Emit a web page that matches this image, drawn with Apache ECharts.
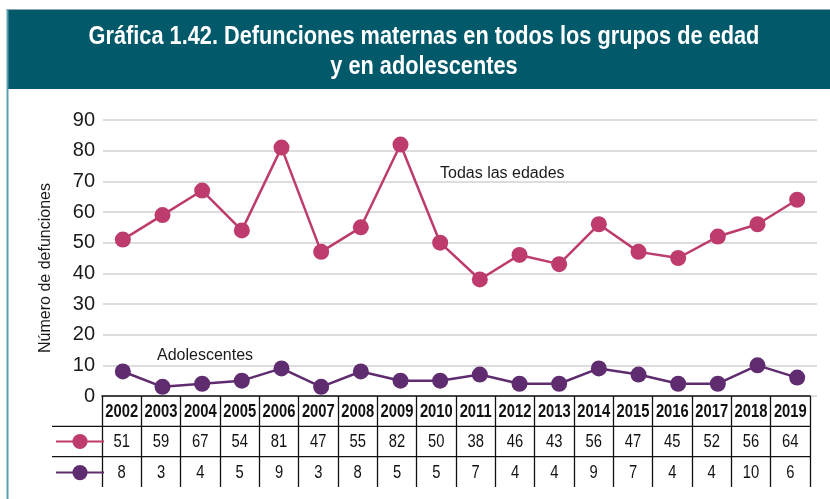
<!DOCTYPE html>
<html>
<head>
<meta charset="utf-8">
<script src="https://cdn.jsdelivr.net/npm/echarts@6/dist/echarts.min.js"></script>
<style>
  html, body { margin: 0; padding: 0; background: #ffffff; }
  #chart { width: 830px; height: 499px; }
</style>
</head>
<body>
<div id="chart"></div>
<script>
// Maternal deaths, all ages vs. adolescents, 2002-2019
const years = ['2002','2003','2004','2005','2006','2007','2008','2009','2010',
               '2011','2012','2013','2014','2015','2016','2017','2018','2019'];
const allAges = [51, 59, 67, 54, 81, 47, 55, 82, 50, 38, 46, 43, 56, 47, 45, 52, 56, 64];
const adolescents = [8, 3, 4, 5, 9, 3, 8, 5, 5, 7, 4, 4, 9, 7, 4, 4, 10, 6];
const yTicks = { min: 0, max: 90, interval: 10 };
const titleLines = ['Gráfica 1.42. Defunciones maternas en todos los grupos de edad', 'y en adolescentes'];

const PINK = '#bd3c6d';
const PURPLE = '#5f2d6f';
const SANS = '"Liberation Sans", Arial, sans-serif';
const NARROW_SCALE = 0.82;       // condensed look for the table text
const TITLE_SCALE = 0.87;        // condensed look for the heading

const chart = echarts.init(document.getElementById('chart'), null, { renderer: 'canvas' });

// table rows: header (years), then the values of each series
const tableRows = [
  { texts: years, bold: true },
  { texts: allAges.map(String), bold: false },
  { texts: adolescents.map(String), bold: false }
];
const tableCells = [];
tableRows.forEach((row, r) => {
  row.texts.forEach((t, i) => tableCells.push([i, r + 0.5, r]));
});

const option = {
  animation: false,
  backgroundColor: '#ffffff',
  legend: {
    orient: 'vertical',
    left: 50,
    top: 427,
    itemWidth: 48,
    itemHeight: 19,
    itemGap: 14,
    formatter: () => '',
    selectedMode: false,
    data: ['Todas las edades', 'Adolescentes']
  },
  grid: [
    { left: 103, right: 13, top: 120, bottom: 103 },
    { left: 102, right: 20, top: 396, height: 91 }
  ],
  xAxis: [
    {
      type: 'category',
      gridIndex: 0,
      data: years,
      boundaryGap: true,
      axisLine: { show: false },
      axisTick: { show: false },
      axisLabel: { show: false },
      splitLine: { show: false }
    },
    {
      type: 'category',
      gridIndex: 1,
      data: years,
      position: 'top',
      boundaryGap: true,
      axisLine: { show: true, lineStyle: { color: '#111', width: 1.5 } },
      axisTick: { show: false },
      axisLabel: { show: false },
      splitLine: { show: true, lineStyle: { color: '#111', width: 1.3 } }
    }
  ],
  yAxis: [
    {
      type: 'value',
      gridIndex: 0,
      min: yTicks.min,
      max: yTicks.max,
      interval: yTicks.interval,
      axisLine: { show: false },
      axisTick: { show: false },
      axisLabel: {
        margin: 8,
        fontFamily: SANS,
        fontSize: 20,
        color: '#1a1a1a'
      },
      splitLine: { show: true, lineStyle: { color: '#d2d2d2', width: 1.5 } }
    },
    {
      type: 'value',
      gridIndex: 1,
      min: 0,
      max: 3,
      inverse: true,
      show: false,
      splitLine: { show: false }
    }
  ],
  series: [
    {
      name: 'Todas las edades',
      type: 'line',
      data: allAges,
      symbol: 'circle',
      symbolSize: 16,
      lineStyle: { color: PINK, width: 2.5 },
      itemStyle: { color: PINK },
      z: 3
    },
    {
      name: 'Adolescentes',
      type: 'line',
      data: adolescents,
      symbol: 'circle',
      symbolSize: 16,
      lineStyle: { color: PURPLE, width: 2.5 },
      itemStyle: { color: PURPLE },
      z: 3
    },
    {
      name: 'tabla',
      type: 'custom',
      xAxisIndex: 1,
      yAxisIndex: 1,
      silent: true,
      data: tableCells,
      renderItem: function (params, api) {
        const cell = tableCells[params.dataIndex];
        const row = tableRows[cell[2]];
        const p = api.coord([cell[0], cell[1]]);
        return {
          type: 'text',
          x: p[0],
          y: p[1] + 1,
          scaleX: NARROW_SCALE,
          style: {
            text: row.texts[cell[0]],
            fontFamily: SANS,
            fontSize: 18,
            fontWeight: row.bold ? 'bold' : 'normal',
            fill: '#111',
            align: 'center',
            verticalAlign: 'middle'
          }
        };
      },
      z: 5
    }
  ]
};

chart.setOption(option);

// frame, title band, annotations and row separators of the table
const rightEdge = chart.convertToPixel({ xAxisIndex: 1 }, years[years.length - 1]) + 19.7;
const rowLine1 = chart.convertToPixel({ yAxisIndex: 1 }, 1);
const rowLine2 = chart.convertToPixel({ yAxisIndex: 1 }, 2);

const titleStyle = { fontFamily: SANS, fontWeight: 'bold', fontSize: 25, fill: '#ffffff', align: 'center', verticalAlign: 'middle' };

chart.setOption({
  graphic: [
    { type: 'rect', shape: { x: 7, y: 10, width: 823, height: 79 }, style: { fill: '#02596a' }, z: 0, silent: true },
    { type: 'line', shape: { x1: 7, y1: 9.5, x2: 830, y2: 9.5 }, style: { stroke: '#8aa7ad', lineWidth: 1 }, silent: true },
    { type: 'line', shape: { x1: 7.5, y1: 9, x2: 7.5, y2: 499 }, style: { stroke: '#5d9fad', lineWidth: 2 }, silent: true },
    { type: 'text', x: 424, y: 37, scaleX: TITLE_SCALE, silent: true, z: 10, style: Object.assign({ text: titleLines[0] }, titleStyle) },
    { type: 'text', x: 424, y: 67, scaleX: TITLE_SCALE, silent: true, z: 10, style: Object.assign({ text: titleLines[1] }, titleStyle) },
    {
      type: 'text', x: 46, y: 268, rotation: Math.PI / 2, silent: true,
      style: { text: 'Número de defunciones', fontFamily: SANS, fontSize: 16, fill: '#1a1a1a', align: 'center', verticalAlign: 'middle' }
    },
    {
      type: 'text', x: 440, y: 174, silent: true,
      style: { text: 'Todas las edades', fontFamily: SANS, fontSize: 16, fill: '#1a1a1a', align: 'left', verticalAlign: 'middle' }
    },
    {
      type: 'text', x: 157, y: 356, silent: true,
      style: { text: 'Adolescentes', fontFamily: SANS, fontSize: 16, fill: '#1a1a1a', align: 'left', verticalAlign: 'middle' }
    },
    { type: 'line', shape: { x1: 52, y1: rowLine1, x2: rightEdge, y2: rowLine1 }, style: { stroke: '#111', lineWidth: 1.3 }, silent: true },
    { type: 'line', shape: { x1: 52, y1: rowLine2, x2: rightEdge, y2: rowLine2 }, style: { stroke: '#111', lineWidth: 1.3 }, silent: true }
  ]
});
</script>
</body>
</html>
